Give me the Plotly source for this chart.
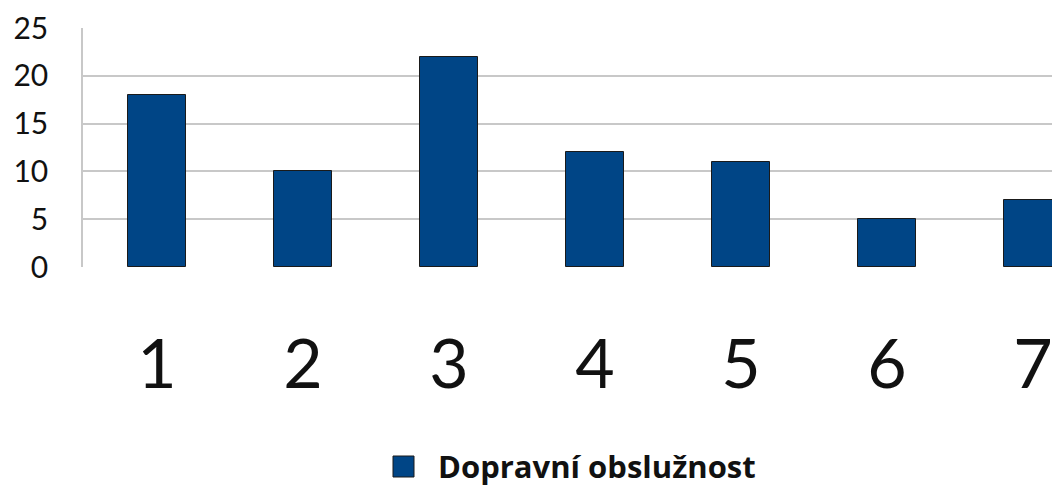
import plotly.graph_objects as go

categories = ["1", "2", "3", "4", "5", "6", "7"]
values = [18, 10, 22, 12, 11, 5, 7]
series_name = "Dopravní obslužnost"
y_ticks = [0, 5, 10, 15, 20, 25]

BAR_COLOR = "#004586"
OFF = 8  # default browser body margin
W, H = 1060 - OFF, 486 - OFF
L, T, B = 83 - OFF, 28 - OFF, 219
plot_w = W - L

fig = go.Figure()
fig.add_trace(go.Bar(
    x=[int(c) for c in categories], y=values, name=series_name,
    width=0.4, marker=dict(color=BAR_COLOR, line=dict(color="#1a1a1a", width=1)),
    showlegend=False,
))

fig.update_layout(
    width=W, height=H,
    margin=dict(l=L, r=0, t=T, b=B, autoexpand=False),
    paper_bgcolor="white", plot_bgcolor="white",
    font=dict(family="Lato, Carlito, sans-serif", color="#111111"),
    bargap=0,
    xaxis=dict(
        range=[0.493, 7.185], tickmode="array",
        tickvals=[int(c) for c in categories], ticktext=categories,
        tickfont=dict(size=68, family="Lato, sans-serif"),
        showgrid=False, showline=False, zeroline=False, ticks="",
        ticklabelstandoff=52, automargin=False,
    ),
    yaxis=dict(
        range=[0, 25], tickmode="array", tickvals=y_ticks,
        tickfont=dict(size=30), showgrid=True, gridcolor="#c8c8c8", gridwidth=1.5,
        showline=True, linecolor="#c8c8c8", linewidth=1.5, zeroline=False,
        ticks="", ticklabelstandoff=27, automargin=False,
    ),
)

# legend drawn manually to match the large square swatch (page pixel positions)
def px_to_paper_x(px):
    return (px - OFF - L) / plot_w

def px_to_paper_y(py):
    return (H - B - (py - OFF)) / (H - T - B)

fig.add_shape(type="rect", xref="paper", yref="paper",
              x0=px_to_paper_x(393), x1=px_to_paper_x(414),
              y0=px_to_paper_y(477), y1=px_to_paper_y(456),
              fillcolor=BAR_COLOR, line=dict(color="#1a1a1a", width=1))
fig.add_annotation(xref="paper", yref="paper", x=px_to_paper_x(436), y=px_to_paper_y(466),
                   xanchor="left", yanchor="middle", showarrow=False,
                   text="<b>" + series_name + "</b>",
                   font=dict(size=31, family="Open Sans, sans-serif", color="#111111"))

fig.write_html("out.html")
